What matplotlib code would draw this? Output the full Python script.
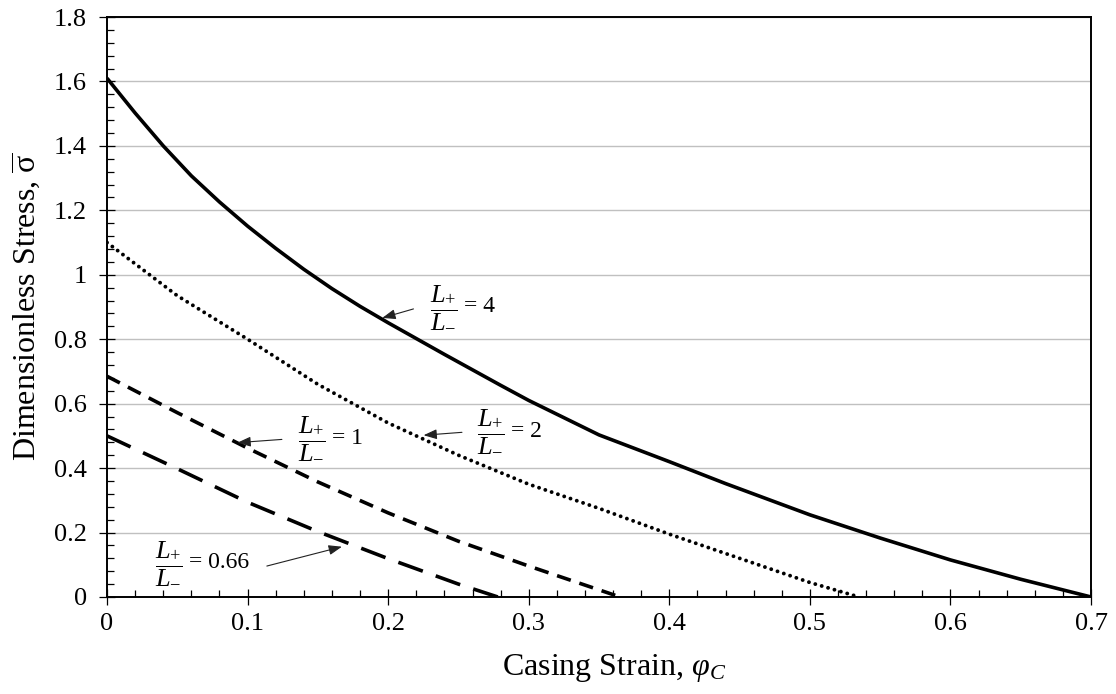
import matplotlib
matplotlib.use("Agg")
import matplotlib.pyplot as plt
from matplotlib.ticker import MultipleLocator
from matplotlib.transforms import offset_copy

# Curves (casing strain vs dimensionless stress)
strain_r4 = [0.0, 0.02, 0.04, 0.06, 0.08, 0.10, 0.12, 0.14, 0.16, 0.18, 0.20, 0.22,
             0.24, 0.26, 0.28, 0.30, 0.35, 0.40, 0.44, 0.50, 0.55, 0.60, 0.65, 0.70]
stress_r4 = [1.61, 1.502, 1.40, 1.307, 1.226, 1.151, 1.082, 1.017, 0.957, 0.902, 0.851, 0.802,
             0.753, 0.705, 0.657, 0.610, 0.503, 0.42, 0.352, 0.255, 0.183, 0.115, 0.055, 0.0]

strain_r2 = [0.0, 0.05, 0.10, 0.15, 0.20, 0.25, 0.30, 0.35, 0.40, 0.45, 0.50, 0.535]
stress_r2 = [1.10, 0.935, 0.80, 0.66, 0.54, 0.44, 0.35, 0.275, 0.195, 0.12, 0.045, 0.0]

strain_r1 = [0.0, 0.05, 0.10, 0.15, 0.20, 0.25, 0.30, 0.365]
stress_r1 = [0.685, 0.572, 0.462, 0.357, 0.261, 0.173, 0.096, 0.0]

strain_r066 = [0.0, 0.05, 0.10, 0.15, 0.20, 0.25, 0.278]
stress_r066 = [0.50, 0.398, 0.294, 0.203, 0.119, 0.04, 0.0]

ratio_labels = ["4", "2", "1", "0.66"]

plt.rcParams["font.family"] = ["Liberation Serif", "DejaVu Serif"]
plt.rcParams["mathtext.fontset"] = "custom"
plt.rcParams["mathtext.rm"] = "Liberation Serif"
plt.rcParams["mathtext.it"] = "Liberation Serif:italic"

fig = plt.figure(figsize=(11.16, 6.94), dpi=100)
ax = fig.add_axes([0.0959, 0.1398, 0.8817, 0.8357])

# Curves
ax.plot(strain_r4, stress_r4, color="black", lw=2.6, solid_capstyle="butt")
ax.plot(strain_r2, stress_r2, color="black", lw=2.8, dashes=(0.01, 1.7),
        dash_capstyle="round")
ax.plot(strain_r1, stress_r1, color="black", lw=2.6, dashes=(4.0, 2.5))
ax.plot(strain_r066, stress_r066, color="black", lw=2.6, dashes=(7.2, 3.8))

# Axes limits and ticks
ax.set_xlim(0, 0.7)
ax.set_ylim(0, 1.8)
ax.xaxis.set_major_locator(MultipleLocator(0.1))
ax.xaxis.set_minor_locator(MultipleLocator(0.02))
ax.yaxis.set_major_locator(MultipleLocator(0.2))
ax.yaxis.set_minor_locator(MultipleLocator(0.04))
ax.set_xticks([0, 0.1, 0.2, 0.3, 0.4, 0.5, 0.6, 0.7])
ax.set_xticklabels(["0", "0.1", "0.2", "0.3", "0.4", "0.5", "0.6", "0.7"])
ax.set_yticks([0, 0.2, 0.4, 0.6, 0.8, 1.0, 1.2, 1.4, 1.6, 1.8])
ax.set_yticklabels(["0", "0.2", "0.4", "0.6", "0.8", "1", "1.2", "1.4", "1.6", "1.8"])

ax.tick_params(which="major", direction="inout", length=11, width=0.9,
               labelsize=19)
ax.tick_params(axis="x", which="major", pad=6)
ax.tick_params(axis="y", which="major", pad=9)
ax.tick_params(which="minor", direction="in", length=5, width=0.9)

for side in ax.spines.values():
    side.set_linewidth(1.4)

# Horizontal grid
ax.grid(True, axis="y", which="major", color="#c0c0c0", lw=1.0)
ax.set_axisbelow(True)

ax.set_xlabel(r"Casing Strain, $\varphi_C$", fontsize=23, labelpad=12)
ax.xaxis.label.set_x(0.515)
ax.set_ylabel(r"Dimensionless Stress, $\overline{\mathrm{\sigma}}$", fontsize=23,
              labelpad=8)

# Ratio annotations: (text pos, arrow tail, arrow head)
notes = [
    ((0.230, 0.901), (0.218, 0.894), (0.1958, 0.866)),
    ((0.263, 0.515), (0.2525, 0.511), (0.2252, 0.502)),
    ((0.136, 0.4925), (0.1244, 0.489), (0.0928, 0.479)),
    ((0.034, 0.106), (0.1137, 0.096), (0.1671, 0.156)),
]
eq_shift = offset_copy(ax.transData, fig=fig, x=34, y=0, units="dots")
for label, (txt, tail, head) in zip(ratio_labels, notes):
    ax.text(txt[0], txt[1], r"$\dfrac{L_{+}}{L_{-}}$",
            fontsize=19, ha="left", va="center")
    ax.text(txt[0], txt[1], "= " + label, transform=eq_shift,
            fontsize=17, ha="left", va="center")
    ax.annotate("", xy=head, xytext=tail,
                arrowprops=dict(arrowstyle="-|>,head_length=0.8,head_width=0.3",
                                color="#222222", lw=0.8, shrinkA=0, shrinkB=0))

fig.savefig("out.png", dpi=100)
